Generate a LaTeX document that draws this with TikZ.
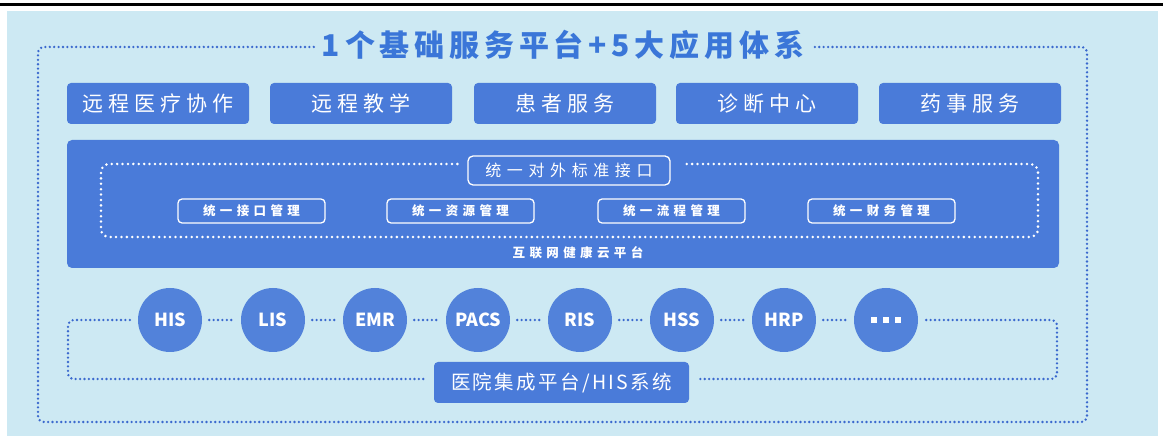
\documentclass[tikz,border=0pt]{standalone}
\usepackage{fontspec}
\newfontfamily\cjk{Noto Sans CJK SC}
\newfontfamily\cjktitle[LetterSpace=16]{Noto Sans CJK SC}
\newfontfamily\cjkapp[LetterSpace=24]{Noto Sans CJK SC}
\newfontfamily\cjkwide[LetterSpace=35]{Noto Sans CJK SC}
\newfontfamily\cjkbot[LetterSpace=12]{Noto Sans CJK SC}
\definecolor{bgblue}{HTML}{CDE9F3}
\definecolor{boxblue}{HTML}{4A7BD9}
\definecolor{circblue}{HTML}{5282DA}
\definecolor{dotblue}{HTML}{3A68CE}
\definecolor{titleblue}{HTML}{3A76D8}
\begin{document}
\begin{tikzpicture}[x=1pt,y=-1pt,
  appbox/.style={fill=boxblue,rounded corners=4pt,minimum width=182pt,minimum height=41pt,inner sep=0pt,text=white,font=\cjkapp\fontsize{21}{24}\selectfont},
  subbox/.style={draw=white,line width=1.3pt,rounded corners=4pt,minimum width=147pt,minimum height=24pt,inner sep=0pt,text=white,font=\cjkwide\bfseries\fontsize{12.5}{14}\selectfont},
  sysnode/.style={circle,fill=circblue,minimum size=64pt,inner sep=0pt,text=white,font=\cjk\bfseries\fontsize{18}{20}\selectfont},
  dotline/.style={dotblue,line width=2.6pt,dash pattern=on 0pt off 4.4pt,line cap=round},
  wdot/.style={white,line width=2.8pt,dash pattern=on 0pt off 5.4pt,line cap=round}
]
\useasboundingbox (0,0) rectangle (1168,438);
% background panel
\fill[bgblue] (7,11) rectangle (1158,436);
\draw[black,line width=3pt] (0,5) -- (1163,5);

% title
\node[text=titleblue,font=\cjktitle\bfseries\fontsize{30}{34}\selectfont,inner sep=0pt] (title) at (563,45) {1个基础服务平台+5大应用体系};
\draw[dotline,rounded corners=6pt] ([xshift=-8pt]title.west |- 0,47) -- (38,47) -- (38,422) -- (1087,422) -- (1087,47) -- ([xshift=10pt]title.east |- 0,47);

% application boxes
\node[appbox] (a1) at (158,103.5) {远程医疗协作};
\node[appbox] (a2) at (361,103.5) {远程教学};
\node[appbox] (a3) at (565,103.5) {患者服务};
\node[appbox] (a4) at (767,103.5) {诊断中心};
\node[appbox] (a5) at (970,103.5) {药事服务};

% platform
\node[fill=boxblue,rounded corners=5pt,minimum width=992pt,minimum height=128pt,inner sep=0pt] (plat) at (563,204) {};
\node[draw=white,line width=1.3pt,rounded corners=5pt,minimum width=202pt,minimum height=29pt,inner sep=0pt,text=white,font=\cjkwide\fontsize{16}{18}\selectfont] (ifc) at (569,170.5) {统一对外标准接口};
\draw[wdot,rounded corners=8pt] ([xshift=-10pt]ifc.west |- 0,164) -- (101,164) -- (101,237) -- (1038,237) -- (1038,164) -- ([xshift=12pt]ifc.east |- 0,164);
\node[subbox] (s1) at (251.5,211) {统一接口管理};
\node[subbox] (s2) at (460.5,211) {统一资源管理};
\node[subbox] (s3) at (671.5,211) {统一流程管理};
\node[subbox] (s4) at (881.5,211) {统一财务管理};
\node[text=white,font=\cjkwide\bfseries\fontsize{12.5}{14}\selectfont,inner sep=0pt] (cloud) at (578,253) {互联网健康云平台};

% systems
\node[sysnode] (c1) at (170,320) {HIS};
\node[sysnode] (c2) at (273,320) {LIS};
\node[sysnode] (c3) at (375,320) {EMR};
\node[sysnode] (c4) at (478,320) {PACS};
\node[sysnode] (c5) at (580,320) {RIS};
\node[sysnode] (c6) at (682,320) {HSS};
\node[sysnode] (c7) at (784,320) {HRP};
\node[sysnode] (c8) at (886,320) {\rule{6pt}{6pt}\hspace{6pt}\rule{6pt}{6pt}\hspace{6pt}\rule{6pt}{6pt}};
\foreach \a/\b in {c1/c2,c2/c3,c3/c4,c4/c5,c5/c6,c6/c7,c7/c8}
  \draw[dotline,shorten <=7pt,shorten >=7pt] (\a) -- (\b);

\node[fill=boxblue,rounded corners=4pt,minimum width=255pt,minimum height=41pt,inner sep=0pt,text=white,font=\cjkbot\fontsize{19.5}{22}\selectfont] (his) at (561.5,382.5) {医院集成平台/HIS系统};
\draw[dotline,rounded corners=6pt] ([xshift=-8pt]c1.west) -- (68,320) -- (68,379) -- ([xshift=-10pt]his.west |- 0,379);
\draw[dotline,rounded corners=6pt] ([xshift=8pt]c8.east) -- (1057,320) -- (1057,379) -- ([xshift=10pt]his.east |- 0,379);
\end{tikzpicture}
\end{document}
